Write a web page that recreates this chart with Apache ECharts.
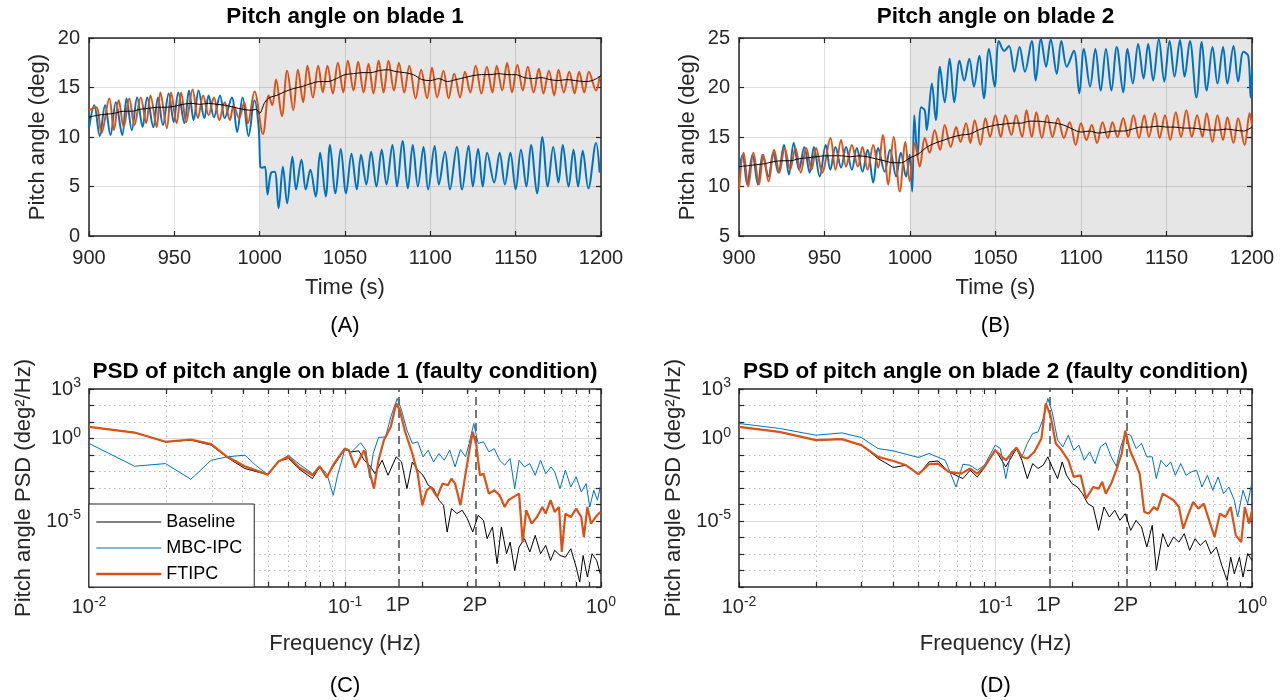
<!DOCTYPE html>
<html><head><meta charset="utf-8">
<script src="https://cdn.jsdelivr.net/npm/echarts@6/dist/echarts.min.js"></script>
<style>html,body{margin:0;padding:0;background:#fff}#c{width:1288px;height:700px}</style>
</head><body><div id="c"></div>
<script>
// ---------------- data ----------------
const timeTicks = [900, 950, 1000, 1050, 1100, 1150, 1200];
const faultWindow = [1000, 1200];
const blade1Range = [0, 20];
const blade2Range = [5, 25];
const angleStep = 5;
const freqRangeLog = [-2, 0];           // log10(Hz)
const psdRangeLog = [-9, 3];            // log10(deg^2/Hz)
const psdLabelExps = [3, 0, -5];
const psdMajorExps = [0, -5];
const freqLabelExps = [-2, -1, 0];
const freqMajorHz = [0.1];
const harmonicsHz = [0.161, 0.322];
const harmonicNames = ['1P', '2P'];
const freqTicksHz = [0.01,0.02,0.03,0.04,0.05,0.06,0.07,0.08,0.09,0.1,0.2,0.3,0.4,0.5,0.6,0.7,0.8,0.9,1];
const seriesNames = ['Baseline', 'MBC-IPC', 'FTIPC'];

// Blade 1 pitch angle [time s, deg]
const b1Base = [[900,12.0],[905,12.2],[910,12.3],[915,12.4],[920,12.6],[925,12.6],[930,12.8],[935,12.9],[940,13.0],[945,13.0],[950,13.1],[955,13.3],[960,13.4],[965,13.3],[970,13.4],[975,13.3],[980,13.2],[985,13.0],[990,12.8],[995,12.7],[998,12.8],[1000,12.4],[1003,13.5],[1006,14.0],[1010,14.2],[1015,14.6],[1020,14.9],[1025,15.1],[1030,15.4],[1035,15.6],[1040,15.6],[1045,15.9],[1050,16.3],[1055,16.4],[1060,16.5],[1065,16.5],[1070,16.7],[1075,16.8],[1080,16.6],[1085,16.5],[1090,16.3],[1095,15.8],[1100,15.7],[1105,15.9],[1110,15.6],[1115,15.8],[1120,16.0],[1125,16.2],[1130,16.3],[1135,16.3],[1140,16.4],[1145,16.3],[1150,16.3],[1155,16.0],[1160,15.9],[1165,16.0],[1170,15.8],[1175,15.7],[1180,15.8],[1185,15.7],[1190,15.6],[1195,15.7],[1200,16.2]];
const b1Mbc = [[900.0,10.9],[903.1,13.2],[906.3,10.1],[909.4,13.2],[912.6,10.2],[915.7,13.5],[919.5,10.2],[922.0,13.9],[925.1,10.7],[928.2,14.0],[931.4,11.0],[934.1,14.0],[937.7,11.0],[940.4,14.0],[943.3,11.2],[946.7,14.4],[949.6,11.5],[952.3,14.5],[955.9,11.4],[958.6,14.7],[961.3,11.7],[964.2,14.7],[967.6,11.9],[970.1,14.2],[973.2,12.0],[976.8,14.2],[979.5,11.9],[983.7,14.0],[986.8,10.5],[990.0,14.0],[993.5,10.1],[996.9,13.7],[999.4,11.0],[1000.4,7.0],[1001.5,6.9],[1003.1,7.0],[1004.6,4.2],[1006.7,6.4],[1008.8,6.5],[1011.1,2.8],[1013.6,7.0],[1016.1,3.3],[1019.2,8.0],[1021.3,4.7],[1024.5,7.7],[1027.0,4.7],[1029.7,6.7],[1032.8,4.0],[1035.4,8.4],[1038.7,4.0],[1041.2,9.2],[1044.4,4.3],[1047.5,8.8],[1050.6,4.3],[1053.8,8.3],[1056.9,4.7],[1059.4,8.2],[1062.5,5.2],[1065.3,8.5],[1068.4,5.0],[1071.5,8.7],[1074.3,5.2],[1077.8,9.2],[1080.5,5.0],[1083.7,9.6],[1086.8,4.8],[1089.7,9.2],[1092.7,5.0],[1096.0,9.0],[1098.7,4.7],[1102.5,9.1],[1105.0,5.2],[1108.6,8.5],[1111.5,4.7],[1115.5,9.0],[1118.6,4.7],[1122.4,9.1],[1124.9,5.0],[1128.0,8.8],[1130.7,5.0],[1133.3,8.4],[1137.4,5.4],[1140.6,8.4],[1143.7,5.2],[1146.9,8.4],[1150.0,4.7],[1153.1,8.7],[1156.3,5.0],[1159.0,9.2],[1162.5,4.3],[1165.7,10.0],[1168.8,5.0],[1172.0,9.0],[1175.1,5.4],[1177.6,9.2],[1181.0,5.0],[1183.9,8.7],[1186.6,5.0],[1189.3,8.6],[1192.6,4.8],[1197.1,9.4],[1199.2,6.4]];
const b1Ft = [[900.0,12.7],[904.2,13.0],[907.3,10.4],[911.9,13.9],[914.6,10.7],[917.4,13.7],[920.3,11.0],[923.6,13.9],[926.6,11.2],[930.3,14.0],[933.5,11.4],[936.0,14.2],[939.7,11.0],[941.8,14.5],[945.6,10.9],[948.1,14.5],[951.3,11.4],[954.0,14.5],[956.9,11.5],[960.7,14.8],[963.8,11.9],[966.9,14.2],[970.1,12.2],[973.2,14.0],[976.4,11.7],[979.5,13.5],[982.6,11.7],[984.7,13.2],[987.9,11.9],[991.0,13.5],[993.1,11.4],[997.0,14.6],[1001.9,10.3],[1005.3,14.2],[1007.4,13.2],[1009.6,15.8],[1013.0,12.1],[1016.1,16.7],[1019.7,12.7],[1022.4,16.8],[1025.5,13.5],[1028.0,17.2],[1031.2,14.0],[1034.3,17.2],[1037.0,14.5],[1039.7,17.2],[1042.9,14.4],[1045.8,17.5],[1049.0,14.5],[1051.7,17.7],[1055.0,14.7],[1057.7,17.6],[1060.9,14.5],[1063.8,17.4],[1066.7,14.4],[1069.7,17.7],[1072.6,14.5],[1075.5,17.7],[1078.7,14.7],[1081.6,17.5],[1084.7,14.5],[1087.7,17.2],[1091.4,13.9],[1094.6,16.8],[1098.1,13.9],[1101.0,17.0],[1104.0,14.0],[1107.7,16.7],[1110.7,13.9],[1114.0,16.4],[1117.4,14.0],[1120.3,16.6],[1123.4,14.5],[1126.6,17.2],[1129.9,14.4],[1133.1,17.1],[1136.4,14.5],[1138.9,17.2],[1142.1,14.7],[1145.0,17.5],[1147.9,14.5],[1151.0,17.3],[1154.2,14.7],[1157.1,17.1],[1160.5,14.5],[1163.6,16.9],[1166.3,14.4],[1169.5,16.7],[1172.6,14.2],[1175.1,16.8],[1178.2,14.5],[1181.4,16.6],[1184.5,14.4],[1187.2,16.6],[1190.2,14.5],[1192.9,16.6],[1197.1,14.7],[1199.2,16.1]];

// Blade 2 pitch angle [time s, deg]
const b2Base = [[900,12.0],[905,12.1],[910,12.2],[915,12.3],[920,12.5],[925,12.6],[930,12.6],[935,12.8],[940,12.9],[945,13.0],[950,13.1],[955,13.1],[960,13.1],[965,13.0],[970,13.1],[975,13.0],[980,12.8],[985,12.6],[990,12.4],[995,12.4],[1000,12.9],[1005,13.3],[1010,14.0],[1015,14.4],[1020,14.7],[1025,15.0],[1030,15.2],[1035,15.3],[1040,15.7],[1045,16.0],[1050,16.2],[1055,16.3],[1060,16.4],[1065,16.4],[1070,16.6],[1075,16.6],[1080,16.5],[1085,16.4],[1090,16.2],[1095,15.8],[1100,15.5],[1105,15.6],[1110,15.4],[1115,15.5],[1120,15.6],[1125,15.6],[1130,15.8],[1135,16.0],[1140,16.0],[1145,16.1],[1150,16.0],[1155,16.0],[1160,15.9],[1165,15.9],[1170,15.8],[1175,15.7],[1180,15.7],[1185,15.8],[1190,15.7],[1195,15.6],[1200,16.0]];
const b2Mbc = [[900.0,11.7],[902.1,13.2],[904.8,10.2],[907.9,13.2],[911.1,10.2],[913.8,13.2],[917.3,11.0],[920.0,13.4],[923.0,11.4],[926.3,14.2],[929.2,11.2],[932.0,14.4],[935.1,11.7],[938.2,14.0],[941.3,11.4],[943.8,14.0],[947.2,11.0],[950.7,14.2],[953.4,11.7],[956.4,14.0],[959.7,11.9],[962.6,14.0],[966.0,11.7],[968.9,13.9],[972.2,11.5],[975.2,13.7],[978.5,10.4],[981.4,13.9],[985.2,11.5],[988.3,13.7],[991.9,11.0],[994.6,13.4],[997.7,11.0],[999.8,13.2],[1001.3,9.5],[1002.5,17.2],[1004.4,13.0],[1006.5,18.0],[1008.6,17.7],[1009.8,15.7],[1012.8,20.4],[1015.1,16.7],[1017.5,22.1],[1020.3,18.5],[1023.2,22.9],[1025.9,18.5],[1029.0,22.7],[1031.7,20.7],[1034.7,22.9],[1037.4,20.1],[1040.5,23.2],[1043.2,18.9],[1046.2,23.9],[1049.5,20.1],[1052.0,24.7],[1055.1,23.7],[1057.9,24.2],[1061.0,21.6],[1064.1,24.1],[1067.2,21.6],[1071.2,24.7],[1073.5,20.7],[1076.6,24.9],[1079.6,22.1],[1082.3,24.9],[1085.8,21.4],[1088.5,24.7],[1091.7,22.1],[1095.8,23.7],[1099.0,19.4],[1101.7,23.9],[1105.3,20.1],[1108.4,23.9],[1111.5,19.7],[1114.6,23.9],[1117.8,19.7],[1120.9,24.1],[1124.7,19.5],[1127.2,23.9],[1130.3,20.4],[1133.4,24.4],[1136.6,20.9],[1139.3,24.4],[1142.2,20.7],[1145.5,24.9],[1148.7,20.6],[1151.8,24.7],[1154.7,21.1],[1157.9,24.8],[1160.6,21.1],[1163.7,24.7],[1167.5,19.0],[1170.6,24.6],[1173.5,19.7],[1176.9,24.1],[1179.8,20.4],[1183.1,24.1],[1185.6,20.4],[1189.2,24.2],[1191.9,20.6],[1195.0,23.6],[1197.8,23.2],[1199.2,19.0],[1200.0,21.7]];
const b2Ft = [[900.0,9.7],[902.7,13.4],[905.4,10.0],[908.4,13.4],[911.7,10.2],[914.2,13.2],[917.3,10.5],[920.5,13.7],[923.6,11.4],[926.7,13.9],[929.9,11.7],[933.0,13.9],[936.1,11.4],[939.3,13.9],[942.4,11.7],[945.1,13.9],[948.6,11.4],[953.5,14.9],[956.4,11.7],[959.7,14.7],[962.6,12.0],[966.0,14.2],[969.5,12.0],[972.2,14.0],[975.2,11.7],[978.5,14.2],[981.4,11.9],[984.1,15.2],[987.3,10.2],[990.4,15.0],[994.0,9.5],[997.3,14.5],[999.8,10.5],[1002.9,14.4],[1005.7,12.0],[1008.6,14.9],[1011.5,13.4],[1014.4,15.7],[1017.6,13.7],[1020.3,16.2],[1023.8,14.0],[1027.0,16.0],[1029.5,14.5],[1032.8,16.4],[1035.3,14.4],[1037.8,16.7],[1041.2,14.2],[1044.1,16.9],[1046.8,15.0],[1049.9,17.2],[1053.1,15.0],[1055.8,17.2],[1059.3,15.2],[1062.0,17.2],[1065.6,15.0],[1068.1,17.7],[1071.2,15.0],[1073.9,17.5],[1077.1,14.9],[1080.2,17.2],[1083.3,15.0],[1086.5,16.9],[1090.0,14.9],[1093.4,16.5],[1096.9,14.2],[1100.0,16.4],[1103.2,14.7],[1106.3,16.2],[1109.4,14.4],[1112.6,16.5],[1115.7,14.9],[1118.4,16.5],[1121.3,15.0],[1124.7,16.9],[1127.6,15.0],[1130.7,17.2],[1133.9,14.9],[1137.0,17.2],[1139.7,15.0],[1143.2,17.4],[1146.0,14.9],[1149.1,17.2],[1152.2,14.7],[1155.4,17.5],[1158.5,15.0],[1161.6,17.7],[1164.8,15.0],[1167.9,17.2],[1171.0,15.0],[1173.5,17.4],[1176.9,14.5],[1179.8,17.2],[1183.1,14.7],[1185.6,17.0],[1189.2,14.4],[1191.9,16.9],[1195.7,14.2],[1198.6,17.4],[1200.0,16.2]];

// PSD blade 1 [log10 f (Hz), log10 PSD (deg^2/Hz)]
const p1Base = [[-2,0.71],[-1.822,0.36],[-1.701,-0.20],[-1.602,-0.10],[-1.523,-0.40],[-1.460,-1.15],[-1.391,-1.82],[-1.302,-2.19],[-1.259,-1.38],[-1.221,-1.21],[-1.182,-1.82],[-1.127,-2.43],[-1.099,-1.72],[-1.071,-2.33],[-1.043,-1.62],[-1.001,-0.67],[-0.974,-0.81],[-0.946,-0.75],[-0.925,-1.32],[-0.904,-1.62],[-0.883,-2.13],[-0.855,-1.32],[-0.832,-2.23],[-0.800,-1.11],[-0.779,-1.42],[-0.758,-3.04],[-0.737,-1.42],[-0.716,-1.92],[-0.695,-2.23],[-0.675,-2.83],[-0.654,-3.04],[-0.633,-3.74],[-0.615,-4.05],[-0.601,-5.67],[-0.584,-4.25],[-0.563,-4.55],[-0.542,-4.35],[-0.522,-4.86],[-0.501,-5.67],[-0.480,-4.66],[-0.459,-4.96],[-0.445,-6.07],[-0.424,-5.36],[-0.406,-7.59],[-0.389,-5.36],[-0.369,-6.98],[-0.355,-6.28],[-0.337,-8.0],[-0.320,-6.58],[-0.299,-6.07],[-0.278,-6.88],[-0.257,-5.87],[-0.236,-6.98],[-0.216,-6.48],[-0.197,-7.39],[-0.181,-6.78],[-0.160,-7.09],[-0.139,-7.19],[-0.118,-6.68],[-0.097,-7.79],[-0.083,-8.70],[-0.070,-7.09],[-0.053,-8.40],[-0.035,-6.98],[-0.017,-7.39],[-0.003,-8.20]];
const p1Mbc = [[-2,-0.30],[-1.822,-1.68],[-1.701,-1.52],[-1.602,-2.47],[-1.523,-1.32],[-1.460,-1.11],[-1.391,-1.01],[-1.349,-1.62],[-1.302,-2.19],[-1.259,-1.42],[-1.221,-1.01],[-1.182,-1.52],[-1.127,-2.13],[-1.099,-1.68],[-1.071,-2.13],[-1.046,-3.44],[-1.029,-2.23],[-1.001,-0.67],[-0.974,-0.81],[-0.939,-0.26],[-0.918,-0.71],[-0.904,-2.37],[-0.890,-0.91],[-0.869,0.06],[-0.841,0.10],[-0.821,1.32],[-0.796,2.43],[-0.779,1.72],[-0.758,0.51],[-0.737,-0.30],[-0.716,-0.20],[-0.695,-1.11],[-0.675,-0.71],[-0.654,-1.42],[-0.633,-0.91],[-0.612,-1.32],[-0.591,-0.71],[-0.570,-1.72],[-0.549,-0.67],[-0.529,-1.11],[-0.515,-0.30],[-0.497,0.91],[-0.480,-0.30],[-0.459,-0.20],[-0.438,-0.81],[-0.417,-0.61],[-0.396,-1.32],[-0.376,-1.62],[-0.355,-1.21],[-0.337,-3.04],[-0.320,-1.32],[-0.299,-1.72],[-0.278,-1.52],[-0.257,-2.23],[-0.236,-1.32],[-0.216,-2.13],[-0.195,-1.72],[-0.181,-2.02],[-0.160,-3.04],[-0.139,-1.92],[-0.118,-2.94],[-0.097,-2.33],[-0.077,-3.24],[-0.058,-2.73],[-0.044,-4.15],[-0.028,-3.14],[-0.014,-3.74],[-0.003,-2.94]];
const p1Ft = [[-2,0.71],[-1.822,0.36],[-1.701,-0.20],[-1.602,-0.06],[-1.523,-0.34],[-1.460,-1.11],[-1.391,-1.68],[-1.302,-2.19],[-1.259,-1.38],[-1.221,-1.11],[-1.182,-1.72],[-1.127,-2.23],[-1.099,-1.68],[-1.071,-2.37],[-1.043,-1.52],[-1.001,-0.61],[-0.985,-0.71],[-0.960,-1.76],[-0.925,-0.71],[-0.887,-3.04],[-0.869,-1.32],[-0.848,-0.10],[-0.821,0.71],[-0.800,2.13],[-0.786,1.72],[-0.765,0.40],[-0.737,-0.91],[-0.716,-2.13],[-0.698,-4.05],[-0.681,-3.14],[-0.665,-2.94],[-0.640,-3.54],[-0.619,-2.73],[-0.598,-2.83],[-0.584,-2.43],[-0.570,-2.73],[-0.549,-4.05],[-0.529,-2.13],[-0.515,-0.81],[-0.501,0.40],[-0.487,-0.40],[-0.473,-2.23],[-0.459,-2.13],[-0.438,-3.34],[-0.417,-3.14],[-0.396,-3.44],[-0.376,-4.15],[-0.362,-3.74],[-0.341,-3.54],[-0.320,-3.34],[-0.306,-6.28],[-0.292,-4.35],[-0.271,-5.16],[-0.250,-4.76],[-0.229,-4.15],[-0.216,-4.55],[-0.197,-3.74],[-0.181,-4.45],[-0.164,-4.15],[-0.153,-6.88],[-0.139,-4.55],[-0.118,-4.76],[-0.097,-4.25],[-0.077,-4.76],[-0.067,-5.97],[-0.053,-4.15],[-0.039,-5.16],[-0.021,-4.76],[-0.003,-4.45]];

// PSD blade 2 [log10 f (Hz), log10 PSD (deg^2/Hz)]
const p2Base = [[-2,0.71],[-1.843,0.40],[-1.700,-0.10],[-1.599,-0.04],[-1.523,-0.40],[-1.458,-1.21],[-1.398,-1.76],[-1.349,-1.62],[-1.300,-2.17],[-1.259,-1.42],[-1.224,-1.36],[-1.182,-2.02],[-1.127,-2.43],[-1.099,-1.92],[-1.071,-2.33],[-1.043,-1.76],[-1.001,-0.67],[-0.960,-1.72],[-0.918,-0.61],[-0.897,-1.32],[-0.876,-2.43],[-0.855,-1.52],[-0.834,-1.82],[-0.814,-1.62],[-0.796,-1.11],[-0.779,-1.72],[-0.758,-2.43],[-0.740,-1.42],[-0.723,-2.23],[-0.702,-2.73],[-0.681,-2.94],[-0.661,-3.34],[-0.640,-3.95],[-0.619,-4.15],[-0.598,-5.57],[-0.577,-4.15],[-0.556,-4.76],[-0.535,-4.35],[-0.515,-4.96],[-0.494,-4.55],[-0.473,-5.57],[-0.452,-4.96],[-0.431,-5.36],[-0.410,-6.58],[-0.389,-5.26],[-0.373,-8.0],[-0.348,-5.77],[-0.327,-6.58],[-0.306,-5.97],[-0.285,-6.28],[-0.264,-5.77],[-0.243,-6.78],[-0.222,-6.07],[-0.202,-6.48],[-0.181,-6.17],[-0.160,-6.98],[-0.139,-6.58],[-0.118,-7.69],[-0.097,-8.60],[-0.083,-7.19],[-0.069,-8.20],[-0.049,-7.19],[-0.035,-8.40],[-0.017,-6.98],[0,-7.39]];
const p2Mbc = [[-2,0.91],[-1.843,0.61],[-1.700,0.20],[-1.599,0.34],[-1.523,0.06],[-1.458,-0.61],[-1.398,-0.75],[-1.300,-1.15],[-1.259,-0.91],[-1.196,-1.32],[-1.154,-2.94],[-1.127,-1.56],[-1.099,-1.62],[-1.071,-1.92],[-1.043,-1.62],[-1.001,-0.40],[-0.981,-0.61],[-0.960,-2.43],[-0.939,-0.81],[-0.918,-0.61],[-0.897,-1.11],[-0.876,-0.30],[-0.855,0.30],[-0.834,0.40],[-0.814,1.21],[-0.796,2.43],[-0.779,1.62],[-0.758,-0.10],[-0.737,-0.51],[-0.716,0.20],[-0.695,-0.71],[-0.675,-0.40],[-0.654,-1.32],[-0.633,-0.81],[-0.612,-1.52],[-0.591,-0.51],[-0.570,-0.26],[-0.549,-1.11],[-0.529,-1.68],[-0.512,-0.51],[-0.494,0.30],[-0.473,0.20],[-0.452,-0.61],[-0.431,-0.30],[-0.410,-1.11],[-0.389,-1.11],[-0.373,-2.43],[-0.355,-1.32],[-0.334,-1.72],[-0.317,-1.42],[-0.299,-2.23],[-0.278,-1.52],[-0.257,-2.23],[-0.236,-2.02],[-0.216,-1.92],[-0.195,-2.94],[-0.174,-2.23],[-0.153,-3.14],[-0.132,-2.33],[-0.111,-3.34],[-0.090,-2.94],[-0.069,-3.74],[-0.056,-4.76],[-0.035,-3.14],[-0.017,-3.95],[0,-2.63]];
const p2Ft = [[-2,0.71],[-1.843,0.40],[-1.700,-0.10],[-1.599,-0.04],[-1.523,-0.40],[-1.458,-1.11],[-1.398,-1.36],[-1.349,-1.62],[-1.300,-2.17],[-1.259,-1.56],[-1.224,-1.52],[-1.182,-2.02],[-1.134,-2.13],[-1.099,-1.82],[-1.071,-2.13],[-1.043,-1.72],[-1.001,-0.71],[-0.960,-1.32],[-0.918,-0.55],[-0.897,-1.11],[-0.876,-1.21],[-0.848,-0.81],[-0.821,0.0],[-0.804,2.13],[-0.786,1.42],[-0.765,-0.30],[-0.744,-0.67],[-0.716,-1.32],[-0.695,-2.33],[-0.668,-2.23],[-0.647,-3.64],[-0.619,-2.94],[-0.598,-3.04],[-0.584,-2.63],[-0.570,-3.34],[-0.549,-2.73],[-0.529,-1.92],[-0.508,-0.91],[-0.494,0.47],[-0.476,-0.71],[-0.459,-1.32],[-0.438,-2.13],[-0.420,-4.45],[-0.403,-4.55],[-0.382,-4.15],[-0.369,-4.35],[-0.348,-3.34],[-0.327,-3.54],[-0.306,-3.74],[-0.285,-4.15],[-0.268,-5.47],[-0.250,-4.66],[-0.229,-3.85],[-0.209,-4.25],[-0.188,-3.95],[-0.167,-4.96],[-0.146,-5.97],[-0.125,-4.55],[-0.104,-4.76],[-0.083,-4.15],[-0.063,-5.87],[-0.042,-6.28],[-0.028,-4.15],[-0.011,-5.16],[0,-4.35]];

// ---------------- styling / build ----------------
const FONT = '"Liberation Sans", Arial, Helvetica, sans-serif';
const INK = '#262626';
const COLORS = {Baseline: '#000000', 'MBC-IPC': '#0072BD', FTIPC: '#D95319'};
const TICK_FS = 20, NAME_FS = 22, TITLE_FS = 22.5;

const grids = [
  {left: 89, top: 38, width: 512, height: 198},
  {left: 739, top: 38, width: 513, height: 198},
  {left: 89, top: 389, width: 512, height: 198},
  {left: 739, top: 389, width: 513, height: 198}
];

const LBL = {color: INK, fontSize: TICK_FS, fontFamily: FONT};
const RICH = {
  b: {color: INK, fontSize: TICK_FS, fontFamily: FONT},
  s: {color: INK, fontSize: 14, fontFamily: FONT, verticalAlign: 'bottom', padding: [0, 0, 11, 0]}
};
const pow10 = e => '{b|10}{s|' + e + '}';

function frameAxis(gi, pos, extra) {
  const o = {
    type: 'value', gridIndex: gi, position: pos, z: 1,
    axisLine: {show: true, onZero: false, lineStyle: {color: INK, width: 1.5}},
    axisTick: {show: true, inside: true, length: 5, lineStyle: {color: INK, width: 1.2}},
    axisLabel: {show: false},
    splitLine: {show: false}
  };
  for (const k in extra) {
    if (typeof extra[k] === 'object' && !Array.isArray(extra[k]) && o[k]) o[k] = Object.assign({}, o[k], extra[k]);
    else o[k] = extra[k];
  }
  return o;
}
const gridSplit = {show: true, lineStyle: {color: 'rgba(38,38,38,0.15)', width: 1}};
const plain = v => String(v);

const xAxes = [], yAxes = [];
// time panels
[0, 1].forEach(gi => {
  const xr = {min: timeTicks[0], max: timeTicks[timeTicks.length - 1], interval: timeTicks[1] - timeTicks[0]};
  xAxes.push(frameAxis(gi, 'bottom', Object.assign({}, xr, {
    axisLabel: Object.assign({show: true, margin: 12, formatter: plain}, LBL), splitLine: gridSplit,
    name: 'Time (s)', nameLocation: 'middle', nameGap: 41,
    nameTextStyle: {color: INK, fontSize: NAME_FS, fontFamily: FONT}
  })));
  xAxes.push(frameAxis(gi, 'top', xr));
  const rng = gi === 0 ? blade1Range : blade2Range;
  const yr = {min: rng[0], max: rng[1], interval: angleStep};
  yAxes.push(frameAxis(gi, 'left', Object.assign({}, yr, {
    axisLabel: Object.assign({show: true, margin: 9, formatter: plain}, LBL), splitLine: gridSplit,
    name: 'Pitch angle (deg)', nameLocation: 'middle', nameGap: 40,
    nameTextStyle: {color: INK, fontSize: NAME_FS, fontFamily: FONT}
  })));
  yAxes.push(frameAxis(gi, 'right', yr));
});
// PSD panels
const freqTickLog = freqTicksHz.map(Math.log10);
const harmLog = harmonicsHz.map(Math.log10);
const freqLabelVals = freqLabelExps.concat(harmLog).sort((a, b) => a - b);
function freqFmt(v) {
  for (let i = 0; i < harmLog.length; i++) if (Math.abs(v - harmLog[i]) < 1e-6) return '{b|' + harmonicNames[i] + '}';
  return pow10(Math.round(v));
}
[2, 3].forEach(gi => {
  const xr = {min: freqRangeLog[0], max: freqRangeLog[1]};
  xAxes.push(frameAxis(gi, 'bottom', Object.assign({}, xr, {
    axisTick: {customValues: freqTickLog},
    axisLabel: {show: true, customValues: freqLabelVals, formatter: freqFmt, rich: RICH, margin: 8},
    name: 'Frequency (Hz)', nameLocation: 'middle', nameGap: 46,
    nameTextStyle: {color: INK, fontSize: NAME_FS, fontFamily: FONT}
  })));
  xAxes.push(frameAxis(gi, 'top', Object.assign({}, xr, {axisTick: {customValues: freqTickLog}})));
  const yr = {min: psdRangeLog[0], max: psdRangeLog[1], interval: 1};
  yAxes.push(frameAxis(gi, 'left', Object.assign({}, yr, {
    axisLabel: {show: true, customValues: psdLabelExps, formatter: v => pow10(Math.round(v)), rich: RICH, margin: 8},
    name: 'Pitch angle PSD (deg\u00B2/Hz)', nameLocation: 'middle', nameGap: 54,
    nameTextStyle: {color: INK, fontSize: NAME_FS, fontFamily: FONT}
  })));
  yAxes.push(frameAxis(gi, 'right', yr));
});

function line(name, data, gi, width, smooth) {
  return {
    type: 'line', name, data, xAxisIndex: gi * 2, yAxisIndex: gi * 2,
    symbol: 'none', showSymbol: false, smooth: smooth, silent: true, z: 2,
    lineStyle: {color: COLORS[name], width}, itemStyle: {color: COLORS[name]}
  };
}

const series = [];
// PSD series first so the legend picks up their styles
series.push(line('Baseline', p1Base, 2, 1, false), line('MBC-IPC', p1Mbc, 2, 1, false), line('FTIPC', p1Ft, 2, 2.2, false));
series.push(line('Baseline', p2Base, 3, 1, false), line('MBC-IPC', p2Mbc, 3, 1, false), line('FTIPC', p2Ft, 3, 2.2, false));
// time series
series.push(line('MBC-IPC', b1Mbc, 0, 2, 0.35), line('FTIPC', b1Ft, 0, 2, 0.35), line('Baseline', b1Base, 0, 1, 0.3));
series.push(line('MBC-IPC', b2Mbc, 1, 2, 0.35), line('FTIPC', b2Ft, 1, 2, 0.35), line('Baseline', b2Base, 1, 1, 0.3));
// shaded fault windows
[0, 1].forEach(gi => series.push({
  type: 'line', name: 'fault-' + gi, xAxisIndex: gi * 2, yAxisIndex: gi * 2, data: [], silent: true,
  markArea: {silent: true, z: 0, itemStyle: {color: '#e6e6e6'}, data: [[{xAxis: faultWindow[0]}, {xAxis: faultWindow[1]}]]}
}));
// log grid lines and harmonic markers
const dotted = {color: '#b8b8b8', width: 1, type: [1.5, 3.5]};
const solid = {color: '#dcdcdc', width: 1, type: 'solid'};
[2, 3].forEach(gi => {
  const items = [];
  freqTicksHz.forEach(f => {
    if (f === freqTicksHz[0] || f === freqTicksHz[freqTicksHz.length - 1]) return;
    items.push({xAxis: Math.log10(f), lineStyle: freqMajorHz.includes(f) ? solid : dotted});
  });
  for (let e = psdRangeLog[0] + 1; e < psdRangeLog[1]; e++) {
    items.push({yAxis: e, lineStyle: psdMajorExps.includes(e) ? solid : dotted});
  }
  series.push({
    type: 'line', name: 'grid-' + gi, xAxisIndex: gi * 2, yAxisIndex: gi * 2, data: [], silent: true,
    markLine: {silent: true, z: 0.5, symbol: ['none', 'none'], label: {show: false}, animation: false, data: items}
  });
  series.push({
    type: 'line', name: 'harm-' + gi, xAxisIndex: gi * 2, yAxisIndex: gi * 2, data: [], silent: true,
    markLine: {silent: true, z: 1.5, symbol: ['none', 'none'], label: {show: false}, animation: false,
      lineStyle: {color: '#4a4a4a', width: 1.5, type: [8, 5]},
      data: harmLog.map(v => ({xAxis: v}))}
  });
});

const titleStyle = {color: '#000', fontSize: TITLE_FS, fontWeight: 'bold', fontFamily: FONT};
const panelStyle = {color: '#000', fontSize: NAME_FS, fontWeight: 'normal', fontFamily: FONT};
const cx = g => g.left + g.width / 2;
const titles = [
  {text: 'Pitch angle on blade 1', left: cx(grids[0]), top: 5, textAlign: 'center', padding: 0, textStyle: titleStyle},
  {text: 'Pitch angle on blade 2', left: cx(grids[1]), top: 5, textAlign: 'center', padding: 0, textStyle: titleStyle},
  {text: 'PSD of pitch angle on blade 1 (faulty condition)', left: cx(grids[2]), top: 360, textAlign: 'center', padding: 0, textStyle: titleStyle},
  {text: 'PSD of pitch angle on blade 2 (faulty condition)', left: cx(grids[3]), top: 360, textAlign: 'center', padding: 0, textStyle: titleStyle},
  {text: '(A)', left: cx(grids[0]), top: 315, textAlign: 'center', padding: 0, textStyle: panelStyle},
  {text: '(B)', left: cx(grids[1]), top: 315, textAlign: 'center', padding: 0, textStyle: panelStyle},
  {text: '(C)', left: cx(grids[2]), top: 675, textAlign: 'center', padding: 0, textStyle: panelStyle},
  {text: '(D)', left: cx(grids[3]), top: 675, textAlign: 'center', padding: 0, textStyle: panelStyle}
];

const legendWidths = {Baseline: 1.2, 'MBC-IPC': 1.2, FTIPC: 2.5};
const option = {
  animation: false,
  backgroundColor: '#ffffff',
  textStyle: {fontFamily: FONT},
  title: titles,
  grid: grids,
  xAxis: xAxes,
  yAxis: yAxes,
  legend: {
    left: 89, top: 504, orient: 'vertical', itemWidth: 65, itemHeight: 16, itemGap: 8,
    padding: [9, 12, 4, 6], borderColor: INK, borderWidth: 1, backgroundColor: '#ffffff', borderRadius: 0,
    selectedMode: false,
    itemStyle: {opacity: 0},
    textStyle: {color: '#000', fontSize: 18, fontFamily: FONT},
    data: seriesNames.map(n => ({name: n, lineStyle: {color: COLORS[n], width: legendWidths[n], opacity: 1}}))
  },
  series
};
const chart = echarts.init(document.getElementById('c'), null, {renderer: 'canvas'});
chart.setOption(option);
</script></body></html>
